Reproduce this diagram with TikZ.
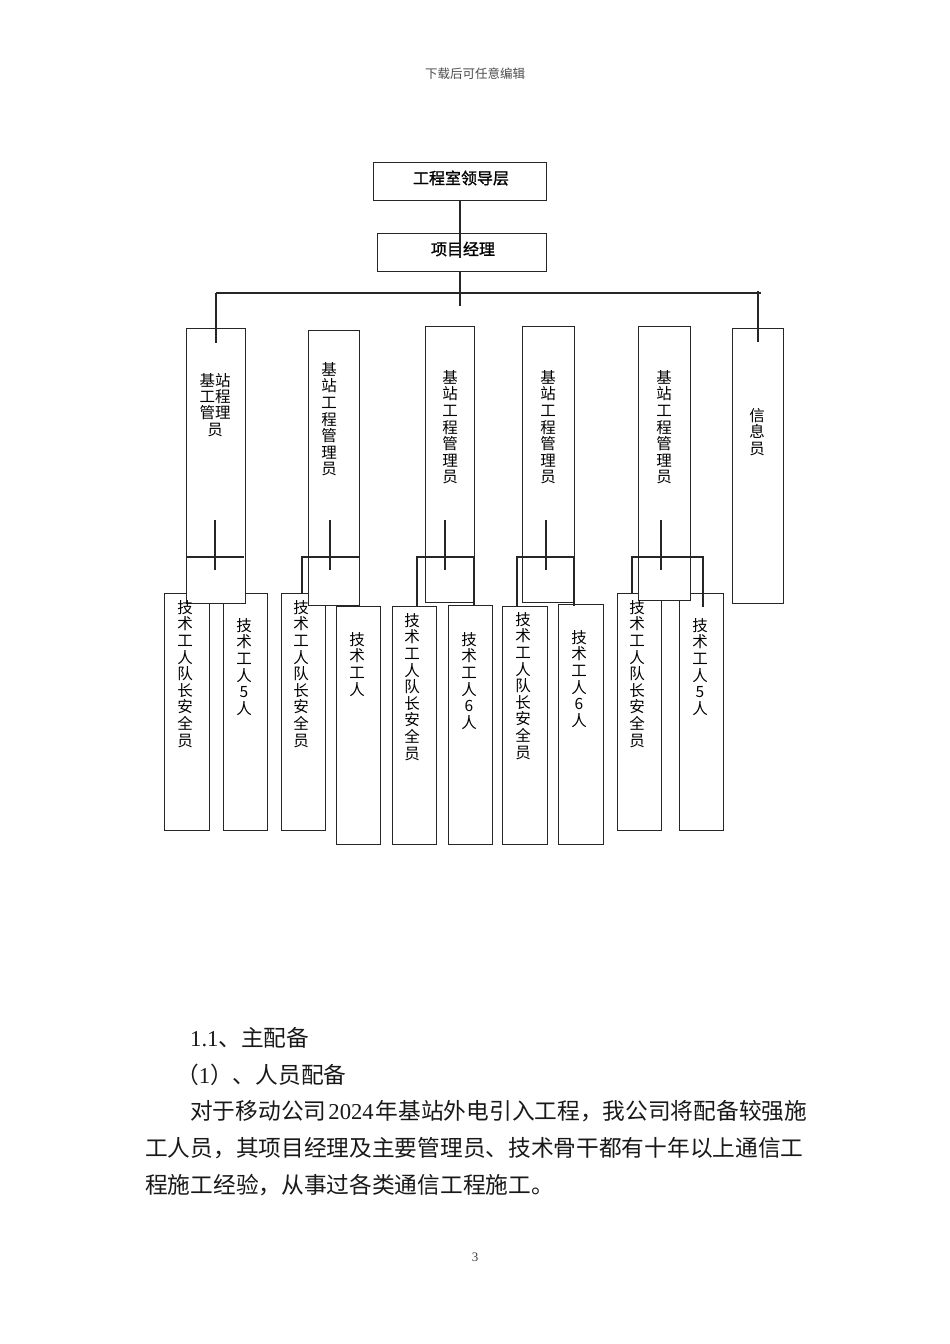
\documentclass[tikz,border=0pt]{standalone}
\usepackage{fontspec}
\setmainfont{Liberation Serif}
\newfontfamily\cjk{Noto Sans CJK SC}
\newfontfamily\cjkb[FakeBold=1.2]{Noto Sans CJK SC}
\tikzset{
  box/.style={draw=black!85, line width=1.1pt, fill=white, inner sep=0pt, anchor=north west},
  ln/.style={draw=black!85, line width=1.1pt},
  vtxt/.style={anchor=north, inner sep=0pt, align=center, font=\cjk\fontsize{15.5}{16.6}\selectfont},
  toptxt/.style={inner sep=0pt, font=\cjkb\fontsize{16}{18}\selectfont},
  body/.style={anchor=west, inner sep=0pt, font=\cjk\fontsize{22.7}{26}\selectfont, text=black!90}
}
\newcommand\bx[5]{\node[box,minimum width={(#4-#2)*1pt},minimum height={(#5-#3)*1pt}] (#1) at (#2,#3) {};}
\begin{document}
\begin{tikzpicture}[x=1pt,y=-1pt]
\useasboundingbox[fill=white] (0,0) rectangle (950,1344);

% header and page number
\node[inner sep=0pt, font=\cjk\fontsize{12.5}{15}\selectfont, text=black!70] (hdr) at (475,74) {下载后可任意编辑};
\node[inner sep=0pt, font=\rmfamily\fontsize{13}{15}\selectfont, text=black!75] (pgno) at (475,1257) {3};

% top boxes
\bx{lead}{373}{162}{546}{200}
\node[toptxt] (leadt) at (461,178) {工程室领导层};
\bx{pm}{377}{233}{546}{271}
\node[toptxt] (pmt) at (463,249) {项目经理};

% children
\bx{a1}{164}{593}{209}{830}
\bx{b1}{223}{593}{267}{830}
\bx{a2}{281}{593}{325}{830}
\bx{b2}{336}{606}{380}{844}
\bx{a3}{392}{606}{436}{844}
\bx{b3}{448}{605}{492}{844}
\bx{a4}{502}{606}{547}{844}
\bx{b4}{558}{604}{603}{844}
\bx{a5}{617}{593}{661}{830}
\bx{b5}{679}{593}{723}{830}

% managers
\bx{m1}{186}{328}{245}{603}
\bx{m2}{308}{330}{359}{605}
\bx{m3}{425}{326}{474}{602}
\bx{m4}{522}{326}{574}{602}
\bx{m5}{638}{326}{690}{600}
\bx{info}{732}{328}{783}{603}

% connectors at the top
\coordinate (c0) at (460,258);
\coordinate (hub) at (460,306);
\coordinate (hl) at (216,293);
\coordinate (hr) at (761,293);
\coordinate (m1in) at (216,343);
\coordinate (ir) at (758,291);
\coordinate (iin) at (758,342);
\draw[ln] (lead.south -| c0) -- (c0);
\draw[ln] (pm.south -| hub) -- (hub);
\draw[ln] (hl) -- (hr);
\draw[ln] (hl) -- (m1in);
\draw[ln] (ir) -- (iin);

% brackets
\draw[ln] (187,557) -- (244,557);
\draw[ln] (302,593) -- (302,557) -- (359,557);
\draw[ln] (417,606) -- (417,557) -- (474,557) -- (474,606);
\draw[ln] (517,606) -- (517,557) -- (574,557) -- (574,606);
\draw[ln] (632,593) -- (632,557) -- (703,557) -- (703,607);

% centre ticks
\foreach \cx in {215,330,445,546,661} \draw[ln] (\cx,520) -- (\cx,570);

% manager texts
\node[vtxt, font=\cjk\fontsize{15.5}{16.3}\selectfont] (m1t) at (215,373) {基站\\工程\\管理\\员};
\node[vtxt] (m2t) at (329,362) {基\\站\\工\\程\\管\\理\\员};
\node[vtxt] (m3t) at (450,370) {基\\站\\工\\程\\管\\理\\员};
\node[vtxt] (m4t) at (548,370) {基\\站\\工\\程\\管\\理\\员};
\node[vtxt] (m5t) at (664,370) {基\\站\\工\\程\\管\\理\\员};
\node[vtxt] (infot) at (757,408) {信\\息\\员};

% child texts
\node[vtxt] (a1t) at (185,600) {技\\术\\工\\人\\队\\长\\安\\全\\员};
\node[vtxt] (b1t) at (244,618) {技\\术\\工\\人\\5\\人};
\node[vtxt] (a2t) at (301,600) {技\\术\\工\\人\\队\\长\\安\\全\\员};
\node[vtxt] (b2t) at (357,632) {技\\术\\工\\人};
\node[vtxt] (a3t) at (412,613) {技\\术\\工\\人\\队\\长\\安\\全\\员};
\node[vtxt] (b3t) at (469,632) {技\\术\\工\\人\\6\\人};
\node[vtxt] (a4t) at (523,612) {技\\术\\工\\人\\队\\长\\安\\全\\员};
\node[vtxt] (b4t) at (579,630) {技\\术\\工\\人\\6\\人};
\node[vtxt] (a5t) at (637,600) {技\\术\\工\\人\\队\\长\\安\\全\\员};
\node[vtxt] (b5t) at (700,618) {技\\术\\工\\人\\5\\人};

% body text
\node[body] (l1) at (190,1038) {{\rmfamily 1.1}、主配备};
\node[body] (l2) at (176,1075) {（{\rmfamily 1}）、人员配备};
\node[body] (l3) at (190,1111) {对于移动公司{\rmfamily\kern2pt 2024\kern2pt}年基站外电引入工程，我公司将配备较强施};
\node[body] (l4) at (145,1148) {工人员，其项目经理及主要管理员、技术骨干都有十年以上通信工};
\node[body] (l5) at (145,1185) {程施工经验，从事过各类通信工程施工。};
\end{tikzpicture}
\end{document}
